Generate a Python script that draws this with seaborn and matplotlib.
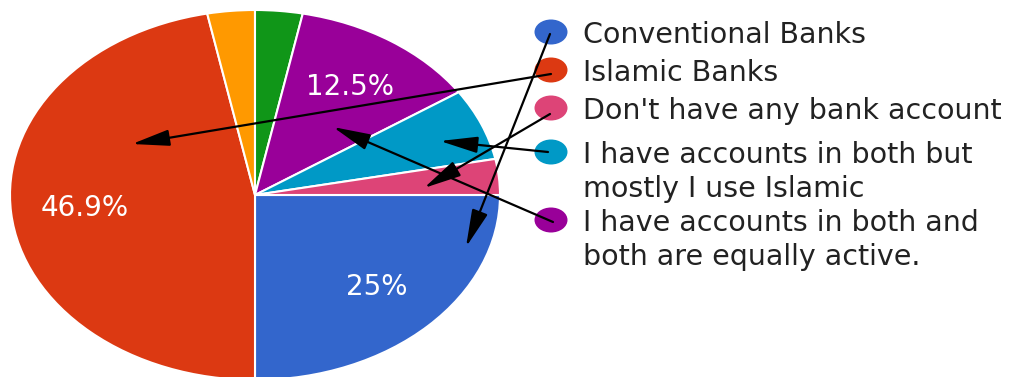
import matplotlib
matplotlib.use("Agg")
import matplotlib.pyplot as plt
from matplotlib.patches import Ellipse
import seaborn as sns

# ---- data ----
slice_labels = ["Conventional Banks", "Islamic Banks", "Other A", "Other B",
                "I have accounts in both and both are equally active.",
                "I have accounts in both but mostly I use Islamic",
                "Don't have any bank account"]
slice_counts = [8, 15, 1, 1, 4, 2, 1]
slice_colors = ["#3366CC", "#DC3912", "#FF9900", "#109618",
                "#990099", "#0099C6", "#DD4477"]

legend_labels = ["Conventional Banks", "Islamic Banks", "Don't have any bank account",
                 "I have accounts in both but\nmostly I use Islamic",
                 "I have accounts in both and\nboth are equally active."]
legend_colors = ["#3366CC", "#DC3912", "#DD4477", "#0099C6", "#990099"]

# ---- style ----
sns.set_theme(style="white")
plt.rcParams["font.family"] = ["DejaVu Sans"]

W, H = 1011, 377
fig = plt.figure(figsize=(W / 100, H / 100), dpi=100)
fig.patch.set_facecolor("white")

# pie axes (stretched ellipse like the reference)
px_l, px_r, px_t, px_b = 10, 500, 10, 380
ax = fig.add_axes([px_l / W, (H - px_b) / H, (px_r - px_l) / W, (px_b - px_t) / H])


def fmt(p):
    if p < 10:
        return ""
    s = f"{p:.1f}".rstrip("0").rstrip(".")
    return s + "%"


wedges, texts, autotexts = ax.pie(
    slice_counts, colors=slice_colors, startangle=0, counterclock=False,
    autopct=fmt, pctdistance=0.7, radius=1.0,
    wedgeprops=dict(edgecolor="white", linewidth=1.5),
    textprops=dict(color="white", fontsize=20))
ax.set_aspect("auto")
ax.set_xlim(-1, 1)
ax.set_ylim(-1, 1)
ax.axis("off")

# overlay axes in pixel coordinates for legend and arrows
ov = fig.add_axes([0, 0, 1, 1])
ov.set_xlim(0, W)
ov.set_ylim(H, 0)
ov.axis("off")
ov.patch.set_alpha(0)

legend_y = [32, 70, 108, 152, 220]
line_pitch = 34
for lab, col, y in zip(legend_labels, legend_colors, legend_y):
    ov.add_patch(Ellipse((551, y), 33, 25, facecolor=col, edgecolor="none"))
    for i, line in enumerate(lab.split("\n")):
        ov.text(583, y + i * line_pitch, line, fontsize=20.5, color="#222222",
                va="center_baseline", ha="left")

# black annotation arrows from legend markers into the slices
arrows = [((550, 34), (466, 247)),
          ((551, 74), (132, 144)),
          ((550, 114), (424, 188)),
          ((548, 152), (440, 141)),
          ((553, 222), (333, 127))]
for (x0, y0), (x1, y1) in arrows:
    ov.annotate("", xy=(x1, y1), xytext=(x0, y0),
                arrowprops=dict(arrowstyle="-|>,head_length=2.3,head_width=0.5",
                                color="black", lw=1.6, mutation_scale=10,
                                shrinkA=0, shrinkB=0))

fig.savefig("out.png", dpi=100, facecolor="white")
